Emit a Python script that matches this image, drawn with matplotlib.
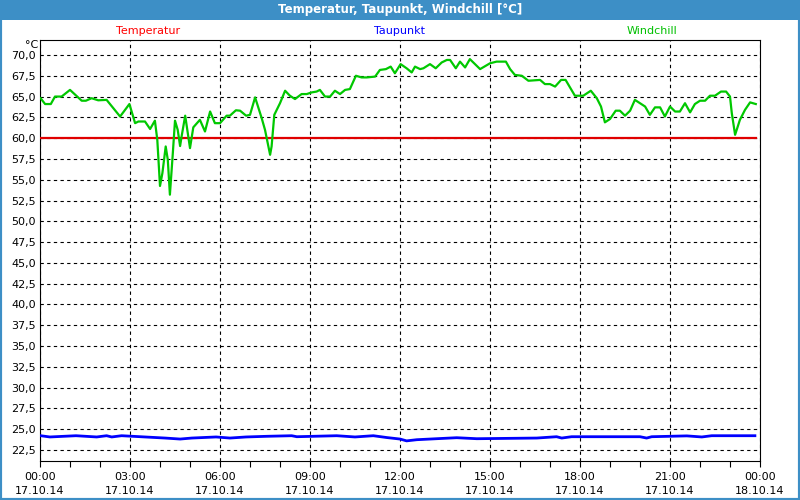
import numpy as np
import matplotlib as mpl
mpl.use('Agg')
import matplotlib.pyplot as plt
from matplotlib.patches import Rectangle

# hours since 17.10.14 00:00
wc_h = [0.02, 0.17, 0.36, 0.5, 0.72, 1.0, 1.39, 1.53, 1.72, 1.94, 2.22, 2.67, 2.98,
        3.17, 3.28, 3.5, 3.67, 3.83, 3.91, 4.0, 4.08, 4.19, 4.26, 4.33, 4.42, 4.5,
        4.59, 4.67, 4.72, 4.84, 5.0, 5.11, 5.33, 5.5, 5.67, 5.83, 6.0, 6.22, 6.33,
        6.53, 6.67, 6.87, 7.0, 7.17, 7.39, 7.5, 7.67, 7.72, 7.81, 8.0, 8.17, 8.33,
        8.5, 8.72, 8.89, 9.06, 9.22, 9.33, 9.5, 9.67, 9.83, 10.0, 10.17, 10.33,
        10.53, 10.72, 10.89, 11.17, 11.33, 11.53, 11.69, 11.83, 12.02, 12.22, 12.39,
        12.5, 12.67, 12.78, 13.0, 13.19, 13.39, 13.56, 13.67, 13.86, 14.0, 14.17,
        14.33, 14.67, 15.0, 15.22, 15.53, 15.67, 15.83, 16.06, 16.28, 16.67, 16.83,
        17.0, 17.17, 17.37, 17.52, 17.83, 18.11, 18.36, 18.56, 18.7, 18.83, 19.0,
        19.19, 19.33, 19.5, 19.67, 19.83, 20.0, 20.17, 20.33, 20.5, 20.67, 20.83,
        21.0, 21.17, 21.33, 21.5, 21.67, 21.83, 22.0, 22.17, 22.33, 22.5, 22.7,
        22.87, 23.0, 23.06, 23.17, 23.33, 23.5, 23.67, 23.86]
windchill = [64.8, 64.1, 64.1, 65.0, 65.0, 65.8, 64.5, 64.5, 64.8, 64.55, 64.6, 62.6, 64.1,
             61.8, 62.0, 62.0, 61.1, 62.1, 59.8, 54.25, 55.8, 59.0, 57.4, 53.2, 57.8, 62.1,
             61.0, 59.05, 60.2, 62.7, 58.8, 61.3, 62.2, 60.8, 63.2, 61.8, 61.8, 62.7, 62.7,
             63.35, 63.3, 62.7, 62.8, 64.9, 62.4, 61.0, 58.0, 59.0, 62.8, 64.2, 65.7, 65.1,
             64.7, 65.3, 65.3, 65.5, 65.6, 65.8, 65.0, 65.0, 65.7, 65.3, 65.8, 65.9,
             67.5, 67.3, 67.3, 67.4, 68.2, 68.3, 68.6, 67.8, 68.9, 68.4, 67.9,
             68.6, 68.3, 68.4, 68.9, 68.4, 69.1, 69.4, 69.4, 68.4, 69.2, 68.5,
             69.5, 68.3, 69.0, 69.2, 69.2, 68.3, 67.6, 67.5, 66.9, 67.0, 66.5,
             66.5, 66.2, 67.0, 67.0, 65.1, 65.1, 65.7, 64.8, 63.8, 61.9, 62.3,
             63.3, 63.3, 62.7, 63.3, 64.6, 64.2, 63.8, 62.8, 63.7, 63.7, 62.6,
             63.8, 63.2, 63.2, 64.2, 63.1, 64.1, 64.5, 64.5, 65.1, 65.1, 65.6,
             65.6, 65.0, 63.0, 60.4, 62.2, 63.4, 64.3, 64.1]

tp_h = [0.02, 0.33, 1.2, 1.89, 2.22, 2.39, 2.72, 3.5, 4.17, 4.67, 5.06, 5.87, 6.33, 6.87,
        7.56, 8.39, 8.56, 9.89, 10.5, 11.11, 11.56, 12.0, 12.22, 12.56, 13.22, 13.89,
        14.56, 16.56, 17.22, 17.39, 17.72, 20.0, 20.22, 20.39, 21.56, 22.06, 22.39, 23.83]
taupunkt = [24.22, 24.07, 24.22, 24.07, 24.22, 24.07, 24.22, 24.07, 23.94, 23.82, 23.94,
            24.07, 23.94, 24.07, 24.15, 24.22, 24.1, 24.22, 24.07, 24.22, 24.0, 23.82,
            23.6, 23.74, 23.86, 23.98, 23.86, 23.94, 24.1, 23.94, 24.1, 24.1, 23.94,
            24.1, 24.2, 24.07, 24.22, 24.22]

temp_h = [0.0, 23.86]
temperatur = [60.0, 60.0]

x_ticks = [0, 3, 6, 9, 12, 15, 18, 21, 24]
x_labels = ['00:00\n17.10.14', '03:00\n17.10.14', '06:00\n17.10.14', '09:00\n17.10.14',
            '12:00\n17.10.14', '15:00\n17.10.14', '18:00\n17.10.14', '21:00\n17.10.14',
            '00:00\n18.10.14']
y_ticks = [22.5 + 2.5 * i for i in range(20)]

BLUE_BAR = '#3d8fc6'

plt.rcParams['font.family'] = ['DejaVu Sans']
fig = plt.figure(figsize=(8, 5), dpi=100)
fig.patch.set_facecolor('white')

# frame and title bar
fig.add_artist(Rectangle((0, 0), 1, 1, transform=fig.transFigure, fill=False,
                         edgecolor=BLUE_BAR, linewidth=3))
fig.add_artist(Rectangle((0, 1 - 20 / 500), 1, 20 / 500, transform=fig.transFigure,
                         facecolor=BLUE_BAR, edgecolor='none'))
fig.text(0.5, 1 - 10 / 500, 'Temperatur, Taupunkt, Windchill [°C]', color='white',
         fontsize=8.5, fontweight='bold', ha='center', va='center')

ax = fig.add_axes([40 / 800, 39 / 500, 720 / 800, 421 / 500])
ax.plot(temp_h, temperatur, color='#e00000', lw=1.6, zorder=3)
ax.plot(tp_h, taupunkt, color='#0000ff', lw=2.0, zorder=3)
ax.plot(wc_h, windchill, color='#00c800', lw=1.6, zorder=4)

ax.set_xlim(0, 24)
ax.set_ylim(21.18, 71.8)
ax.set_xticks(x_ticks)
ax.set_xticklabels(x_labels, fontsize=8, linespacing=1.45)
ax.set_xticks(range(25), minor=True)
ax.set_yticks(y_ticks)
ax.set_yticklabels([('%.1f' % v).replace('.', ',') for v in y_ticks], fontsize=8)
ax.tick_params(axis='y', length=0, pad=3)
ax.tick_params(axis='x', which='both', length=4, width=0.8, direction='out', pad=4)
ax.grid(True, color='black', linestyle=(0, (3, 3)), linewidth=0.8)
for s in ax.spines.values():
    s.set_linewidth(0.8)

fig.text(32 / 800, 1 - 45 / 500, '°C', fontsize=8, ha='center', va='center')
fig.text(148 / 800, 1 - 31 / 500, 'Temperatur', color='#ff0000', fontsize=8, ha='center', va='center')
fig.text(399 / 800, 1 - 31 / 500, 'Taupunkt', color='#0000ff', fontsize=8, ha='center', va='center')
fig.text(652 / 800, 1 - 31 / 500, 'Windchill', color='#00c000', fontsize=8, ha='center', va='center')

fig.savefig('out.png', dpi=100)
